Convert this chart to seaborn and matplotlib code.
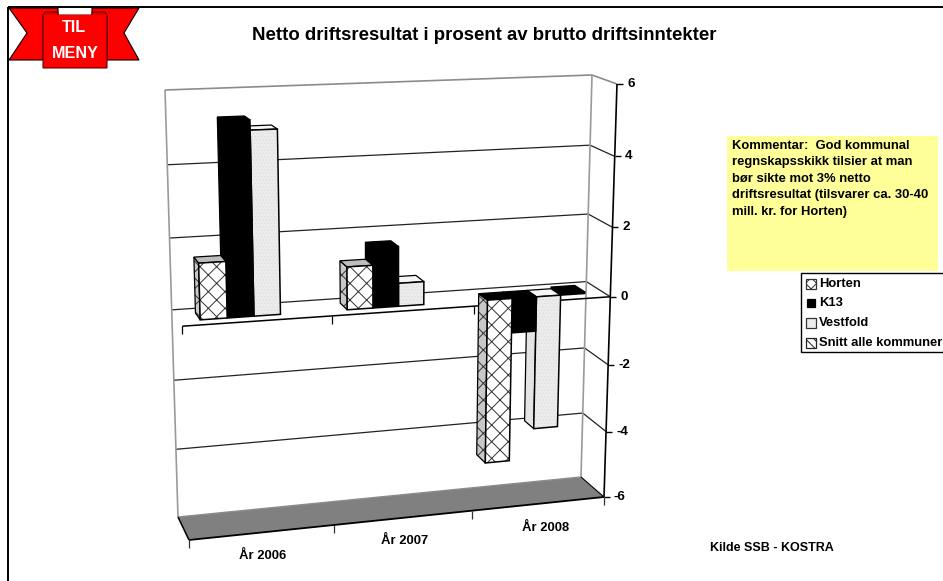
import numpy as np
import pandas as pd
import matplotlib
matplotlib.use("Agg")
import matplotlib.pyplot as plt
from matplotlib.patches import Polygon, Rectangle
from matplotlib.transforms import Transform
import seaborn as sns

# Values
years = ["År 2006", "År 2007", "År 2008"]
horten = [1.55, 1.2, -4.8]
k13 = [5.3, 1.68, -1.0]
vestfold = [5.03, 0.65, -3.9]
snitt = [np.nan, np.nan, 0.05]
series = ["Horten", "K13", "Vestfold", "Snitt alle kommuner"]
value_ticks = [6, 4, 2, 0, -2, -4, -6]
comment = ["Kommentar:  God kommunal", "regnskapsskikk tilsier at man",
           "bør sikte mot 3% netto", "driftsresultat (tilsvarer ca. 30-40",
           "mill. kr. for Horten)"]

df = pd.DataFrame({
    "year": np.repeat(years, 4),
    "series": series * 3,
    "value": [s[i] for i in range(3) for s in (horten, k13, vestfold, snitt)],
})

sns.set_theme(style="white")
plt.rcParams["font.family"] = ["Liberation Sans", "DejaVu Sans"]
plt.rcParams["hatch.linewidth"] = 0.7


def homography(src, dst):
    a = []
    for (x, y), (u, v) in zip(src, dst):
        a.append([x, y, 1, 0, 0, 0, -u * x, -u * y])
        a.append([0, 0, 0, x, y, 1, -v * x, -v * y])
    h = np.linalg.solve(np.array(a, float), np.array(dst, float).ravel())
    return np.append(h, 1).reshape(3, 3)


# plot box seen in perspective: picture pixels of its corners
box = [(-0.5, -6), (2.5, -6), (2.5, 6), (-0.5, 6)]
H_front = homography(box, [(189, 540), (604, 497), (617, 84), (175, 98)])
H_back = homography(box, [(178, 517), (581, 477), (592, 75), (165, 90)])


def project(x, v, d=0.0):
    # d=0 is the front plane of the box, d=1 the back wall
    p = np.column_stack([np.atleast_1d(x), np.atleast_1d(v), np.ones(np.size(x))])
    f = p @ H_front.T
    b = p @ H_back.T
    return (1 - d) * f[:, :2] / f[:, 2:] + d * b[:, :2] / b[:, 2:]


class BoxPlane(Transform):
    input_dims = 2
    output_dims = 2

    def __init__(self, d):
        super().__init__()
        self.d = d

    def transform_non_affine(self, values):
        values = np.asarray(values)
        return project(values[:, 0], values[:, 1], self.d)


fig = plt.figure(figsize=(9.43, 5.81), dpi=100)
ax = fig.add_axes([0, 0, 1, 1])

sns.barplot(data=df, x="year", y="value", hue="series", hue_order=series,
            order=years, ax=ax, legend=False, errorbar=None, width=0.72, gap=0)

ax.set_xlim(0, 943)
ax.set_ylim(581, 0)
ax.axis("off")


def line(p, q, color="black", lw=1.0, z=1):
    ax.plot([p[0], q[0]], [p[1], q[1]], color=color, lw=lw, zorder=z,
            solid_capstyle="butt")


# frame of the slide
line((8, 7), (943, 7), lw=1.4)
line((8, 7), (8, 581), lw=1.4)

# floor
floor = [project(-0.5, -6, 1)[0], project(2.5, -6, 1)[0],
         project(2.5, -6, 0)[0], project(-0.5, -6, 0)[0]]
ax.add_patch(Polygon(floor, fc="#808080", ec="none", zorder=1))
line(floor[0], floor[3], lw=1.1, z=1.5)
line(floor[3], floor[2], lw=1.3, z=1.5)
line(floor[1], floor[2], lw=0.8, z=1.5)

# walls and gridlines
for v in value_ticks:
    left, right = project(-0.5, v, 1)[0], project(2.5, v, 1)[0]
    front = project(2.5, v, 0)[0]
    if v == 6:
        line(left, right, "#8c8c8c", 1.2)
        line(right, front, "#8c8c8c", 1.2)
    elif v == -6:
        line(left, right, "#8c8c8c", 1.0)
    else:
        line(left, right, "#222222", 0.9)
        line(right, front, "#222222", 0.9)
    line(front, front + np.array([6, 0]), lw=1.0)
    ax.text(front[0] + 10, front[1], str(v), ha="left", va="center",
            fontsize=9.6, fontweight="bold", color="black", zorder=5)
line(project(-0.5, -6, 1)[0], project(-0.5, 6, 1)[0], "#9a9a9a", 1.2)
line(project(2.5, -6, 1)[0], project(2.5, 6, 1)[0], "#9a9a9a", 1.2)
line(project(2.5, -6, 0)[0], project(2.5, 6, 0)[0], lw=1.2)

# category axis on the zero level, ticks below it and on the floor
line(project(-0.5, 0, 0)[0], project(2.5, 0, 0)[0], lw=1.1, z=1.2)
for x in [-0.5, 0.5, 1.5]:
    p = project(x, 0, 0)[0]
    line(p, p + np.array([0, 8]), lw=0.9, z=1.2)
for x in [-0.5, 0.5, 1.5, 2.5]:
    p = project(x, -6, 0)[0]
    line(p, p + np.array([0, 8]), "#333333", 0.9)

# turn the flat seaborn bars into boxes, right to left so left faces hide
styles = {
    "Horten": dict(fc="white", hatch="xx", hatch_c="#333333", side="#c8c8c8", top="#bdbdbd"),
    "K13": dict(fc="black", hatch=None, hatch_c="black", side="black", top="black"),
    "Vestfold": dict(fc="#ececec", hatch=".....", hatch_c="#e0e0e0", side="#e6e6e6", top="#f6f6f6"),
    "Snitt alle kommuner": dict(fc="black", hatch=None, hatch_c="black", side="black", top="black"),
}
d0, d1 = 0.3, 0.72
bars = []
for name, cont in zip(series, ax.containers):
    for patch in cont:
        if not np.isnan(patch.get_height()):
            bars.append((patch.get_x(), name, patch))
bars.sort(key=lambda b: -b[0])

for i, (x0, name, patch) in enumerate(bars):
    st = styles[name]
    x1 = x0 + patch.get_width()
    v = patch.get_height() + patch.get_y()
    zo = 2 + i * 0.1
    top = max(v, 0)
    low = min(v, 0)
    side = np.vstack([project(x0, low, d0), project(x0, top, d0),
                      project(x0, top, d1), project(x0, low, d1)])
    lid = np.vstack([project(x0, top, d0), project(x1, top, d0),
                     project(x1, top, d1), project(x0, top, d1)])
    face = np.vstack([project(x0, low, d0), project(x1, low, d0),
                      project(x1, top, d0), project(x0, top, d0)])
    lid_color = "black" if name == "Horten" and v < 0 else st["top"]
    ax.add_patch(Polygon(side, fc=st["side"], ec=st["hatch_c"] if st["hatch"] else "none",
                         hatch=st["hatch"], lw=0, zorder=zo))
    ax.add_patch(Polygon(side, fill=False, ec="black", lw=0.9, zorder=zo))
    ax.add_patch(Polygon(lid, fc=lid_color, ec="black", lw=0.9, zorder=zo))
    patch.set_transform(BoxPlane(d0) + ax.transData)
    patch.set(fc=st["fc"], ec=st["hatch_c"], hatch=st["hatch"], lw=0, zorder=zo + 0.01)
    ax.add_patch(Polygon(face, fill=False, ec="black", lw=1.1, zorder=zo + 0.02))

# category labels
for name, pos in zip(years, [(263, 556), (405, 541), (546, 528)]):
    ax.text(pos[0], pos[1], name, ha="center", va="center", fontsize=9.4,
            fontweight="bold", color="black", zorder=5)

ax.text(484, 35, "Netto driftsresultat i prosent av brutto driftsinntekter",
        ha="center", va="center", fontsize=13.4, fontweight="bold", color="black")
ax.text(710, 548, "Kilde SSB - KOSTRA", ha="left", va="center", fontsize=9.0,
        fontweight="bold", color="black")

# comment box
ax.add_patch(Rectangle((727, 136), 211, 135, fc="#ffff99", ec="none", zorder=3))
for line_txt, y in zip(comment, [146, 162, 179, 195, 212]):
    ax.text(732, y, line_txt, ha="left", va="center", fontsize=9.4,
            fontweight="bold", color="black", zorder=4)

# legend, runs off the right side of the slide as in the original
ax.add_patch(Rectangle((801, 273), 160, 79, fc="white", ec="black", lw=1.0,
                       zorder=3, clip_on=True))
legend_y = [284, 303, 323, 343]
legend_style = [dict(fc="white", hatch="xxx", ec="#333333", size=10),
                dict(fc="black", ec="black", size=8),
                dict(fc="#ececec", ec="#333333", size=10),
                dict(fc="white", hatch="\\\\\\\\", ec="#222222", size=10)]
for name, y, ls in zip(series, legend_y, legend_style):
    s = ls.pop("size")
    ax.add_patch(Rectangle((810.5 - s / 2, y - s / 2), s, s, lw=0.9, zorder=4, **ls))
    ax.text(819, y, name, ha="left", va="center", fontsize=9.4,
            fontweight="bold", color="black", zorder=4)

# "TIL MENY" ribbon
red = "#ff0000"
ax.add_patch(Polygon([(9, 8), (58, 8), (58, 15), (43, 15), (43, 60), (9, 60), (27, 33)],
                     fc=red, ec="black", lw=0.8, zorder=6))
ax.add_patch(Polygon([(139, 8), (92, 8), (92, 15), (107, 15), (107, 60), (139, 60), (124, 33)],
                     fc=red, ec="black", lw=0.8, zorder=6))
ax.add_patch(Polygon([(43, 15), (45, 12), (58, 12), (58, 15), (92, 15), (92, 12), (105, 12),
                      (107, 15), (107, 68), (43, 68)],
                     fc="#e00000", ec="#700000", lw=0.8, zorder=6.1))
ax.add_patch(Rectangle((44, 15), 62, 52, fc=red, ec="none", zorder=6.2))
ax.text(74, 28, "TIL", ha="center", va="center", color="white", fontsize=11.6,
        fontweight="bold", zorder=7)
ax.text(75, 53, "MENY", ha="center", va="center", color="white", fontsize=11.6,
        fontweight="bold", zorder=7)

fig.savefig("out.png", dpi=100)
